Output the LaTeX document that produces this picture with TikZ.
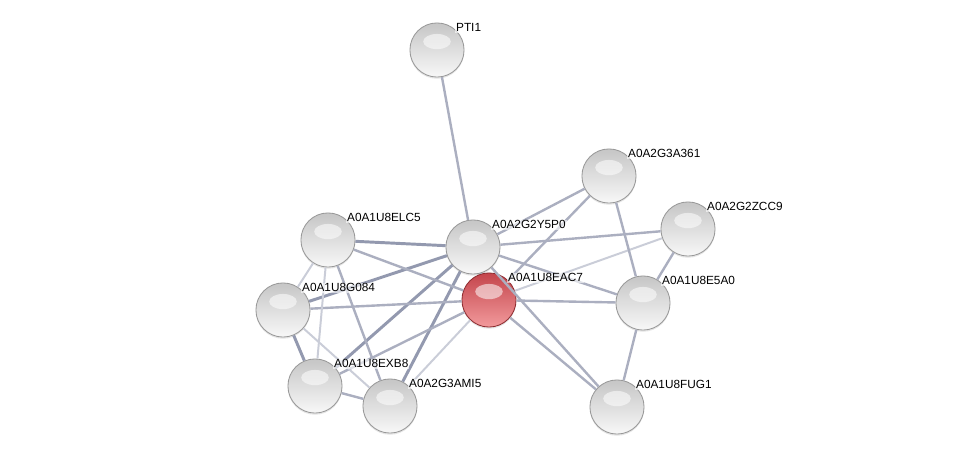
\documentclass[tikz,border=0pt]{standalone}
\usepackage{fontspec}
\setmainfont{Liberation Sans}
\usetikzlibrary{positioning,shadows}
\definecolor{edgecol}{HTML}{8A90A8}
\definecolor{redtop}{HTML}{C4454C}
\definecolor{redbot}{HTML}{F29A9C}
\definecolor{redrim}{HTML}{8E2D31}
\tikzset{
  shine/.style={path picture={\fill[white, opacity=0.55] ([yshift=6pt]path picture bounding box.center) ellipse [x radius=9.8pt, y radius=5.4pt];}},
  prot/.style={circle, draw=gray!80, line width=0.6pt, minimum size=38.5, inner sep=0, top color=gray!45, bottom color=gray!6, shine, drop shadow={opacity=0.2, shadow xshift=0pt, shadow yshift=-1.2pt}},
  hit/.style={circle, draw=redrim, line width=0.6pt, minimum size=38.5, inner sep=0, top color=redtop, bottom color=redbot, shine, drop shadow={opacity=0.2, shadow xshift=0pt, shadow yshift=-1.2pt}},
  lbl/.style={anchor=base west, inner sep=0.6pt, fill=white, fill opacity=0.6, text opacity=1, font=\fontsize{8.4}{9}\selectfont},
  lo/.style={draw=edgecol!45, line width=1.4pt},
  mid/.style={draw=edgecol!72, line width=1.7pt},
  hi/.style={draw=edgecol!92, line width=2.1pt}
}
\begin{document}
\begin{tikzpicture}[x=0.025cm,y=-0.025cm]
\useasboundingbox[fill=white] (0,0) rectangle (975,452);
% proteins
\node[prot] (pti1) at (437,50) {};
\node[prot] (a361) at (609,176) {};
\node[prot] (zcc9) at (688,229) {};
\node[prot] (elc5) at (328,240) {};
\node[prot] (y5p0) at (473,247) {};
\node[hit] (eac7) at (489,300) {};
\node[prot] (e5a0) at (643,303) {};
\node[prot] (g084) at (283,310) {};
\node[prot] (exb8) at (315,386) {};
\node[prot] (ami5) at (390,406) {};
\node[prot] (fug1) at (617,407) {};

% links
\draw[mid] (y5p0) -- (pti1);
\draw[mid] (y5p0) -- (a361);
\draw[mid] (y5p0) -- (zcc9);
\draw[hi] (y5p0) -- (elc5);
\draw[hi] (y5p0) -- (g084);
\draw[hi] (y5p0) -- (exb8);
\draw[hi] (y5p0) -- (ami5);
\draw[hi] (y5p0) -- (eac7);
\draw[mid] (y5p0) -- (e5a0);
\draw[mid] (y5p0) -- (fug1);

\draw[mid] (eac7) -- (a361);
\draw[lo] (eac7) -- (zcc9);
\draw[mid] (eac7) -- (e5a0);
\draw[mid] (eac7) -- (fug1);
\draw[mid] (eac7) -- (g084);
\draw[mid] (eac7) -- (elc5);
\draw[mid] (eac7) -- (exb8);
\draw[lo] (eac7) -- (ami5);

\draw[lo] (elc5) -- (g084);
\draw[lo] (elc5) -- (exb8);
\draw[mid] (elc5) -- (ami5);
\draw[hi] (g084) -- (exb8);
\draw[lo] (g084) -- (ami5);
\draw[mid] (exb8) -- (ami5);

\draw[mid] (e5a0) -- (a361);
\draw[mid] (e5a0) -- (zcc9);
\draw[mid] (e5a0) -- (fug1);

% names
\node[lbl] (pti1-l) at ([shift={(18,-18)}]pti1.center) {PTI1};
\node[lbl] (a361-l) at ([shift={(18,-18)}]a361.center) {A0A2G3A361};
\node[lbl] (zcc9-l) at ([shift={(18,-18)}]zcc9.center) {A0A2G2ZCC9};
\node[lbl] (elc5-l) at ([shift={(18,-18)}]elc5.center) {A0A1U8ELC5};
\node[lbl] (y5p0-l) at ([shift={(18,-18)}]y5p0.center) {A0A2G2Y5P0};
\node[lbl] (eac7-l) at ([shift={(18,-18)}]eac7.center) {A0A1U8EAC7};
\node[lbl] (e5a0-l) at ([shift={(18,-18)}]e5a0.center) {A0A1U8E5A0};
\node[lbl] (g084-l) at ([shift={(18,-18)}]g084.center) {A0A1U8G084};
\node[lbl] (exb8-l) at ([shift={(18,-18)}]exb8.center) {A0A1U8EXB8};
\node[lbl] (ami5-l) at ([shift={(18,-18)}]ami5.center) {A0A2G3AMI5};
\node[lbl] (fug1-l) at ([shift={(18,-18)}]fug1.center) {A0A1U8FUG1};
\end{tikzpicture}
\end{document}
